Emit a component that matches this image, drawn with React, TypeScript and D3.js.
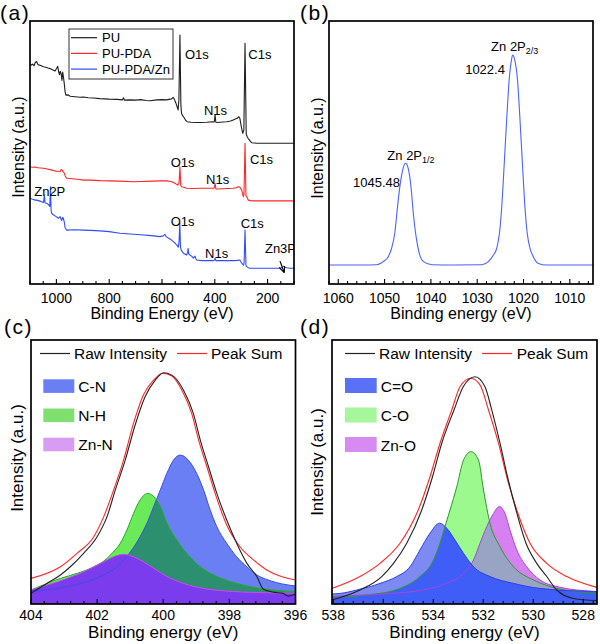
import React from "react";
import * as d3 from "d3";

type Pt = [number, number];
const FONT = "'Liberation Sans', Arial, Helvetica, sans-serif";

// ---------------- (a) XPS survey ----------------
const surveyTickLabels = [1000, 800, 600, 400, 200];
const surveyLegend = ["PU", "PU-PDA", "PU-PDA/Zn"];
const puSurvey: Pt[] = [
  [1100, 83.9], [1095, 83.2], [1090, 83.6], [1085, 83.0], [1080, 84.2], [1075, 84.6], [1070, 83.4], [1062, 83.2],
  [1055, 82.9], [1049, 82.6], [1040, 82.4], [1032, 82.1], [1024, 81.9], [1015, 81.5], [1005, 81.0], [999, 82.0],
  [995, 82.8], [991, 80.5], [988, 79.6], [985, 80.9], [982, 80.0], [979, 77.4], [976, 80.6], [973, 78.5], [970, 76.0],
  [967, 73.0], [964, 71.8], [955, 71.9], [948, 71.4], [930, 71.2], [910, 71.0], [898, 71.1], [880, 70.8], [860, 70.7],
  [835, 70.5], [800, 70.3], [770, 70.2], [750, 70.0], [746, 70.8], [742, 69.9], [720, 70.0], [700, 69.9], [680, 70.1],
  [660, 69.8], [645, 69.7], [620, 70.0], [600, 70.1], [582, 70.0], [570, 70.3], [563, 70.4], [558, 71.0], [553, 70.2],
  [547, 68.7], [543, 67.5], [539, 66.2], [536, 70], [532, 94.7], [528.5, 68], [526, 64.9], [522, 64.0], [516, 63.2],
  [510, 62.2], [505, 61.7], [490, 61.5], [470, 61.4], [456, 61.4], [430, 61.5], [410, 61.7], [402, 61.6], [399, 64.3],
  [396, 61.5], [390, 61.4], [370, 61.6], [355, 61.7], [340, 62.0], [330, 62.4], [320, 62.8], [315, 63.0], [309, 63.6],
  [305, 63.0], [302, 61.2], [298, 59.0], [294, 57.3], [290, 58.5], [285.5, 91.5], [281, 57], [277, 56.0], [273, 55.2],
  [269, 54.8], [265, 54.2], [260, 53.7], [250, 53.6], [241, 53.5], [200, 53.5], [150, 53.5], [100, 53.5],
];
const pdaSurvey: Pt[] = [
  [1100, 44.6], [1090, 44.4], [1080, 44.5], [1070, 44.2], [1060, 44.1], [1049, 44.0], [1035, 43.7], [1020, 43.4],
  [1005, 43.0], [995, 42.8], [986, 42.7], [982, 43.5], [978, 43.3], [974, 42.6], [970, 42.1], [967, 41.2], [964, 40.6],
  [960, 40.2], [940, 40.0], [920, 39.8], [898, 39.5], [870, 39.5], [835, 39.3], [800, 39.2], [760, 39.1], [709, 38.9],
  [680, 39.0], [640, 39.1], [600, 39.2], [582, 39.2], [565, 39.0], [551, 38.3], [540, 37.6], [535.5, 38.5], [532, 44.6],
  [529, 37.5], [526, 37.0], [515, 36.7], [507, 36.4], [480, 36.3], [450, 36.4], [406, 36.4], [402, 36.5], [399, 38.3],
  [396, 36.2], [393, 36.1], [370, 36.2], [350, 36.3], [330, 36.4], [320, 36.6], [311, 37.0], [305, 36.8], [298, 35.7],
  [292, 33.2], [289.5, 34], [285.5, 53.5], [282, 33.5], [279, 33.2], [273, 31.9], [265, 31.7], [254, 31.6], [200, 31.6],
  [150, 31.6], [100, 31.6],
];
const znSurvey: Pt[] = [
  [1100, 32.6], [1090, 32.2], [1080, 31.9], [1075, 31.9], [1065, 31.6], [1056, 31.3], [1049, 31.0], [1045.5, 33.8],
  [1043, 30.8], [1037, 30.7], [1030, 30.2], [1025, 29.5], [1022.4, 37.0], [1020, 28.0], [1018, 26.9], [1012, 26.3],
  [1005, 25.9], [999, 25.5], [993, 25.0], [986, 25.6], [983, 24.8], [980, 24.1], [977, 25.3], [974, 25.0], [970, 23.5],
  [967, 21.4], [961, 20.5], [930, 20.6], [898, 20.5], [870, 20.4], [835, 20.2], [800, 19.9], [759, 19.3], [720, 19.0],
  [680, 18.7], [640, 18.4], [608, 18.0], [595, 18.3], [589, 18.9], [584, 18.0], [575, 17.4], [565, 16.8], [557, 16.1],
  [550, 15.5], [544, 14.8], [538, 14.0], [535.5, 16], [532.5, 23.1], [530, 14], [527, 12.9], [519, 11.7], [507, 11.0],
  [503, 12.0], [501, 13.6], [499, 11.5], [494, 11.0], [487, 10.5], [481, 9.8], [477, 10.4], [475, 10.6], [471, 9.5],
  [469, 9.1], [450, 8.9], [420, 8.9], [406, 8.9], [402, 9.0], [399, 9.8], [396, 8.9], [393, 8.9], [360, 8.9], [330, 8.9],
  [315, 9.0], [305, 9.1], [298, 7.9], [291, 7.2], [289, 8], [285.5, 20.5], [282, 7], [279, 6.6], [273, 6.2], [267, 6.0],
  [240, 6.0], [200, 6.0], [170, 6.0], [153, 6.0], [145, 6.3], [140, 6.8], [135, 6.4], [128, 6.2], [115, 6.0], [100, 6.0],
];
const surveyNotes = [
  { text: "O1s", e: 513, i: 85.6 }, { text: "C1s", e: 273, i: 85.6 }, { text: "N1s", e: 441, i: 64.3 },
  { text: "O1s", e: 567, i: 44.6 }, { text: "C1s", e: 267, i: 45.6 }, { text: "N1s", e: 433, i: 38.0 },
  { text: "Zn2P", e: 1084, i: 33.5 }, { text: "O1s", e: 567, i: 22.1 }, { text: "C1s", e: 302, i: 21.3 },
  { text: "N1s", e: 437, i: 9.9 }, { text: "Zn3P", e: 210, i: 11.8 },
];
const zn3pArrow: Pt[] = [[153, 8.7], [138, 4.6]];

// ---------------- (b) Zn 2p ----------------
const zn2pTickLabels = [1060, 1050, 1040, 1030, 1020, 1010];
const zn2p: Pt[] = [
  [1062, 7.2], [1055, 7.2], [1051.7, 7.3], [1050.3, 8.5], [1049.2, 10.4], [1048.5, 13.5], [1047.8, 19.3], [1047.2, 29.4],
  [1046.7, 37.0], [1046.0, 44.0], [1045.45, 45.9], [1044.9, 44.0], [1044.3, 37.0], [1043.8, 26.9], [1043.2, 18.0],
  [1042.5, 11.6], [1041.6, 8.5], [1039.8, 7.3], [1035, 7.2], [1029, 7.3], [1027.6, 8.5], [1026.5, 11.0], [1025.8, 13.5],
  [1025.2, 19.3], [1024.7, 29.4], [1024.2, 44.6], [1023.6, 63.6], [1023.1, 77.6], [1022.6, 85.2], [1022.35, 87.1],
  [1021.9, 85.2], [1021.3, 77.6], [1020.8, 63.6], [1020.2, 44.6], [1019.7, 29.4], [1019.2, 19.3], [1018.6, 13.5],
  [1017.9, 10.4], [1016.8, 7.8], [1015, 7.2], [1005, 7.2],
];
const zn2pNotes = [
  { main: "Zn 2P", sub: "1/2", e: 1049.4, i: 47.1, value: "1045.48", ve: 1056.8, vi: 37.0 },
  { main: "Zn 2P", sub: "2/3", e: 1027.0, i: 88.6, value: "1022.4", ve: 1032.6, vi: 79.8 },
];

// ---------------- (c) N 1s ----------------
const n1sTickLabels = [404, 402, 400, 398, 396];
const n1sLegend = ["C-N", "N-H", "Zn-N"];
const n1sRaw: Pt[] = [
  [404.0, 4.0], [403.92, 4.7], [403.52, 7.8], [403.11, 11.0], [402.81, 14.1], [402.41, 19.2], [402.0, 25.5],
  [401.7, 33.1], [401.45, 43.2], [401.15, 54.5], [400.85, 67.8], [400.55, 78.5], [400.24, 84.8], [399.99, 87.6],
  [399.74, 86.7], [399.39, 81.1], [399.09, 72.2], [398.88, 62.1], [398.63, 52.0], [398.38, 41.9], [398.08, 31.8],
  [397.78, 23.0], [397.47, 15.4], [397.17, 10.4], [396.97, 5.6], [396.67, 4.5], [396.37, 4.0], [396.22, 3.0], [396.0, 3.8],
];
const n1sSum: Pt[] = [
  [404.0, 9.7], [403.11, 14.1], [402.61, 19.2], [402.1, 25.5], [401.8, 33.1], [401.5, 43.2], [401.2, 54.5],
  [400.9, 68.4], [400.6, 79.2], [400.29, 84.8], [400.02, 87.4], [399.74, 86.4], [399.44, 81.1], [399.14, 72.2],
  [398.93, 62.1], [398.68, 52.0], [398.43, 41.9], [398.08, 29.9], [397.68, 21.7], [397.27, 16.7], [396.87, 12.9],
  [396.47, 10.6], [396.0, 9.1],
];
const n1sCN: Pt[] = [
  [404.0, 4.7], [402.91, 6.6], [401.91, 10.4], [401.4, 14.1], [400.95, 20.5], [400.7, 25.5], [400.45, 31.8],
  [400.29, 36.9], [400.09, 43.2], [399.89, 49.5], [399.69, 54.5], [399.49, 56.4], [399.24, 54.5], [398.99, 49.5],
  [398.78, 43.2], [398.58, 35.6], [398.38, 29.3], [398.08, 23.0], [397.78, 17.9], [397.47, 14.1], [397.17, 11.0],
  [396.87, 9.3], [396.57, 8.1], [396.0, 6.8],
];
const n1sNH: Pt[] = [
  [404.0, 5.3], [403.11, 9.7], [402.61, 11.6], [402.1, 14.1], [401.7, 17.3], [401.6, 18.6], [401.3, 23.0],
  [401.1, 28.0], [400.9, 34.3], [400.7, 39.4], [400.48, 41.9], [400.24, 40.0], [400.09, 36.9], [399.89, 30.6],
  [399.59, 24.2], [399.29, 19.2], [398.88, 14.1], [398.38, 10.4], [397.78, 7.8], [397.07, 5.9], [396.0, 4.7],
];
const n1sZnN: Pt[] = [
  [404.0, 5.3], [402.91, 9.7], [402.51, 11.6], [402.1, 14.1], [401.8, 16.0], [401.5, 17.9], [401.2, 18.8],
  [400.9, 17.9], [400.6, 16.0], [400.29, 13.5], [399.89, 10.4], [399.39, 7.8], [398.78, 5.9], [398.08, 4.9],
  [397.07, 4.3], [396.0, 4.1],
];

// ---------------- (d) O 1s ----------------
const o1sTickLabels = [538, 536, 534, 532, 530, 528];
const o1sLegend = ["C=O", "C-O", "Zn-O"];
const o1sRaw: Pt[] = [
  [538.06, 1.5], [536.93, 5.3], [536.06, 10.4], [535.59, 15.4], [535.06, 23.0], [534.46, 35.6], [534.03, 48.2],
  [533.66, 60.9], [533.17, 73.5], [532.8, 82.3], [532.33, 86.1], [531.93, 82.3], [531.66, 73.5], [531.33, 60.9],
  [531.03, 48.2], [530.69, 35.6], [530.29, 23.0], [529.86, 15.4], [529.46, 10.4], [529.06, 5.3], [528.39, 2.1], [527.46, 1.3],
];
const o1sSum: Pt[] = [
  [538.06, 5.9], [536.93, 10.4], [536.13, 15.4], [535.33, 23.0], [534.6, 35.6], [534.13, 48.2], [533.73, 60.9],
  [533.26, 73.5], [532.93, 82.3], [532.5, 85.5], [532.13, 83.0], [531.79, 73.5], [531.39, 60.9], [531.06, 48.2],
  [530.66, 35.6], [530.13, 23.0], [529.46, 15.4], [528.66, 10.4], [527.46, 6.3],
];
const o1sCdO: Pt[] = [
  [538.06, 3.8], [537.73, 4.0], [537.06, 5.3], [536.13, 7.8], [535.46, 10.4], [534.93, 14.1], [534.53, 20.5],
  [534.13, 26.8], [533.75, 30.6], [533.46, 28.7], [533.13, 24.2], [532.79, 19.2], [532.39, 14.1], [531.73, 10.4],
  [530.79, 7.8], [529.73, 5.9], [527.46, 4.7],
];
const o1sCO: Pt[] = [
  [538.06, 2.5], [536.66, 3.4], [535.33, 5.9], [534.53, 10.4], [534.06, 15.4], [533.73, 23.0], [533.49, 30.6],
  [533.33, 35.6], [533.06, 44.4], [532.79, 54.5], [532.49, 57.7], [532.19, 54.5], [531.99, 43.2], [531.73, 30.6],
  [531.33, 21.7], [530.79, 14.1], [529.99, 9.1], [529.06, 5.9], [527.46, 4.0],
];
const o1sZnO: Pt[] = [
  [538.06, 2.8], [537.73, 3.0], [535.73, 4.0], [534.4, 5.3], [533.46, 7.8], [532.79, 11.6], [532.39, 16.7],
  [532.13, 23.0], [531.86, 29.3], [531.59, 34.3], [531.35, 36.9], [531.13, 34.3], [530.93, 28.0], [530.66, 20.5],
  [530.26, 14.1], [529.73, 9.1], [529.06, 6.6], [527.46, 4.7],
];

type Box = { x0: number; x1: number; y0: number; y1: number };
type Lin = d3.ScaleLinear<number, number>;

function BottomAxis({ x, y, labels, minorStep, majorStep, labelY, fontSize }:
  { x: Lin; y: number; labels: number[]; minorStep: number; majorStep: number; labelY: number; fontSize: number }) {
  const [a, b] = x.domain();
  const lo = Math.min(a, b), hi = Math.max(a, b);
  const n0 = Math.ceil(lo / minorStep - 1e-6), n1 = Math.floor(hi / minorStep + 1e-6);
  const ticks: any[] = [];
  for (let k = n0; k <= n1; k++) {
    const v = k * minorStep;
    const r = v / majorStep;
    const major = Math.abs(r - Math.round(r)) < 1e-6;
    ticks.push(<line key={k} x1={x(v)} x2={x(v)} y1={y} y2={y - (major ? 5 : 3)} stroke="#000" strokeWidth={1.1} />);
  }
  return (
    <g>
      {ticks}
      {labels.map((v) => (
        <text key={v} x={x(v)} y={labelY} textAnchor="middle" fontSize={fontSize} fill="#000">{v}</text>
      ))}
    </g>
  );
}

function Frame({ box }: { box: Box }) {
  return <rect x={box.x0} y={box.y0} width={box.x1 - box.x0} height={box.y1 - box.y0} fill="none" stroke="#000" strokeWidth={1.7} />;
}

function YTitle({ x, cy, size }: { x: number; cy: number; size: number }) {
  return (
    <text transform={`translate(${x},${cy}) rotate(-90)`} textAnchor="middle" fontSize={size} fill="#000">
      Intensity (a.u.)
    </text>
  );
}

export default function App() {
  const A: Box = { x0: 30, x1: 294, y0: 21, y1: 284 };
  const B: Box = { x0: 329, x1: 593, y0: 21, y1: 284 };
  const C: Box = { x0: 31, x1: 295.5, y0: 340, y1: 604 };
  const D: Box = { x0: 332, x1: 597, y0: 340, y1: 604 };

  const xa = d3.scaleLinear().domain([1100, 100]).range([A.x0, A.x1]);
  const ya = d3.scaleLinear().domain([0, 100]).range([A.y1, A.y0]);
  const xb = d3.scaleLinear().domain([1062, 1005]).range([B.x0, B.x1]);
  const yb = d3.scaleLinear().domain([0, 100]).range([B.y1, B.y0]);
  const xc = d3.scaleLinear().domain([404, 396]).range([C.x0, C.x1]);
  const yc = d3.scaleLinear().domain([0, 100]).range([C.y1, C.y0]);
  const xd = d3.scaleLinear().domain([538.05, 527.45]).range([D.x0, D.x1]);
  const yd = d3.scaleLinear().domain([0, 100]).range([D.y1, D.y0]);

  const lineA = d3.line<Pt>().x((d) => xa(d[0])).y((d) => ya(d[1]));
  const lineB = d3.line<Pt>().x((d) => xb(d[0])).y((d) => yb(d[1])).curve(d3.curveMonotoneX);
  const lineC = d3.line<Pt>().x((d) => xc(d[0])).y((d) => yc(d[1])).curve(d3.curveMonotoneX);
  const areaC = d3.area<Pt>().x((d) => xc(d[0])).y0(yc(0)).y1((d) => yc(d[1])).curve(d3.curveMonotoneX);
  const lineD = d3.line<Pt>().x((d) => xd(d[0])).y((d) => yd(d[1])).curve(d3.curveMonotoneX);
  const areaD = d3.area<Pt>().x((d) => xd(d[0])).y0(yd(0)).y1((d) => yd(d[1])).curve(d3.curveMonotoneX);

  const cCN = areaC(n1sCN) || "", cNH = areaC(n1sNH) || "", cZn = areaC(n1sZnN) || "";
  const dCdO = areaD(o1sCdO) || "", dCO = areaD(o1sCO) || "", dZn = areaD(o1sZnO) || "";

  const surveyColors = ["#1e1e1e", "#ff2626", "#2f4cff"];
  const surveyData = [puSurvey, pdaSurvey, znSurvey];

  const cPatch = ["#6b7ff5", "#7fe070", "#d99cf3"];
  const dPatch = ["#5a70f5", "#a6f79c", "#d78af1"];

  return (
    <div style={{ position: "absolute", left: 0, top: 0, width: 600, height: 644, background: "#fff" }}>
      <svg width={600} height={644} style={{ display: "block", fontFamily: FONT }}>
        <defs>
          <clipPath id="clipA"><rect x={A.x0} y={A.y0} width={A.x1 - A.x0} height={A.y1 - A.y0} /></clipPath>
          <clipPath id="clipB"><rect x={B.x0} y={B.y0} width={B.x1 - B.x0} height={B.y1 - B.y0} /></clipPath>
          <clipPath id="clipC"><rect x={C.x0} y={C.y0} width={C.x1 - C.x0} height={C.y1 - C.y0} /></clipPath>
          <clipPath id="clipD"><rect x={D.x0} y={D.y0} width={D.x1 - D.x0} height={D.y1 - D.y0} /></clipPath>
          <clipPath id="cBlue"><path d={cCN} /></clipPath>
          <clipPath id="cBlueGreen"><path d={cCN} /><path d={cNH} /></clipPath>
          <clipPath id="dGreen"><path d={dCO} /></clipPath>
          <clipPath id="dGreenPurple"><path d={dCO} /><path d={dZn} /></clipPath>
          <marker id="arrowHead" viewBox="0 0 10 10" refX="8" refY="5" markerWidth="6" markerHeight="6" orient="auto">
            <path d="M0,1 L9,5 L0,9" fill="none" stroke="#000" strokeWidth={1.6} />
          </marker>
        </defs>
        <rect x={0} y={0} width={600} height={644} fill="#fff" />

        {/* ---------- (a) ---------- */}
        <text x={0} y={19.5} fontSize={21} letterSpacing={1.5}>(a)</text>
        <g clipPath="url(#clipA)">
          {surveyData.map((s, k) => (
            <path key={k} d={lineA(s) || ""} fill="none" stroke={surveyColors[k]} strokeWidth={1.1} strokeLinejoin="round" />
          ))}
          {surveyNotes.map((n, k) => (
            <text key={k} x={xa(n.e)} y={ya(n.i)} fontSize={13} fill="#000">{n.text}</text>
          ))}
          <line x1={xa(zn3pArrow[0][0])} y1={ya(zn3pArrow[0][1])} x2={xa(zn3pArrow[1][0])} y2={ya(zn3pArrow[1][1])}
            stroke="#000" strokeWidth={1.2} markerEnd="url(#arrowHead)" />
        </g>
        <g>
          <rect x={69} y={29} width={104} height={50} fill="#fff" stroke="#333" strokeWidth={1} />
          {surveyLegend.map((name, k) => (
            <g key={name}>
              <line x1={71} x2={97} y1={37.7 + k * 15.7} y2={37.7 + k * 15.7} stroke={surveyColors[k]} strokeWidth={1.2} />
              <text x={102} y={42.2 + k * 15.7} fontSize={13}>{name}</text>
            </g>
          ))}
        </g>
        <BottomAxis x={xa} y={A.y1} labels={surveyTickLabels} minorStep={50} majorStep={200} labelY={302.5} fontSize={14} />
        <Frame box={A} />
        <YTitle x={23.5} cy={147} size={16} />
        <text x={(A.x0 + A.x1) / 2} y={319} textAnchor="middle" fontSize={16}>Binding Energy (eV)</text>

        {/* ---------- (b) ---------- */}
        <text x={300} y={19.5} fontSize={21} letterSpacing={1.5}>(b)</text>
        <g clipPath="url(#clipB)">
          <path d={lineB(zn2p) || ""} fill="none" stroke="#4a63ff" strokeWidth={1.1} />
        </g>
        {zn2pNotes.map((n, k) => (
          <g key={k}>
            <text x={xb(n.e)} y={yb(n.i)} fontSize={13}>
              {n.main}
              <tspan fontSize={9} dy={3}>{n.sub}</tspan>
            </text>
            <text x={xb(n.ve)} y={yb(n.vi)} fontSize={13}>{n.value}</text>
          </g>
        ))}
        <BottomAxis x={xb} y={B.y1} labels={zn2pTickLabels} minorStep={2} majorStep={10} labelY={302.5} fontSize={14} />
        <Frame box={B} />
        <YTitle x={323} cy={148} size={16} />
        <text x={(B.x0 + B.x1) / 2} y={319} textAnchor="middle" fontSize={16}>Binding energy (eV)</text>

        {/* ---------- (c) ---------- */}
        <text x={4} y={334} fontSize={21} letterSpacing={1.5}>(c)</text>
        <g clipPath="url(#clipC)">
          <path d={cCN} fill="#6b7ff5" />
          <path d={cNH} fill="#6aea58" />
          <path d={cNH} fill="#2b8f70" clipPath="url(#cBlue)" />
          <path d={cZn} fill="#c46cf2" />
          <path d={cZn} fill="#7a3cec" clipPath="url(#cBlueGreen)" />
          <path d={lineC(n1sCN) || ""} fill="none" stroke="#3a4ee6" strokeWidth={1} />
          <path d={lineC(n1sNH) || ""} fill="none" stroke="#1faa24" strokeWidth={1} />
          <path d={lineC(n1sZnN) || ""} fill="none" stroke="#c44ee6" strokeWidth={1} />
          <path d={lineC(n1sSum) || ""} fill="none" stroke="#ff2626" strokeWidth={1.1} />
          <path d={lineC(n1sRaw) || ""} fill="none" stroke="#222" strokeWidth={1.1} />
        </g>
        <g>
          <line x1={40} x2={70} y1={353.5} y2={353.5} stroke="#222" strokeWidth={1.2} />
          <text x={74} y={359} fontSize={15.5}>Raw Intensity</text>
          <line x1={177} x2={207} y1={353.5} y2={353.5} stroke="#ff2626" strokeWidth={1.2} />
          <text x={211} y={359} fontSize={15.5}>Peak Sum</text>
          {n1sLegend.map((name, k) => (
            <g key={name}>
              <rect x={43.3} y={379.3 + k * 29.2} width={31} height={13.6} fill={cPatch[k]} />
              <text x={78.3} y={391.8 + k * 29.2} fontSize={15.5}>{name}</text>
            </g>
          ))}
        </g>
        <BottomAxis x={xc} y={C.y1} labels={n1sTickLabels} minorStep={0.4} majorStep={2} labelY={619.5} fontSize={14} />
        <Frame box={C} />
        <YTitle x={23.3} cy={458} size={17} />
        <text x={(C.x0 + C.x1) / 2} y={638} textAnchor="middle" fontSize={17}>Binding energy (eV)</text>

        {/* ---------- (d) ---------- */}
        <text x={300} y={334} fontSize={21} letterSpacing={1.5}>(d)</text>
        <g clipPath="url(#clipD)">
          <path d={dCO} fill="#9cf98e" />
          <path d={dZn} fill="#d680f2" />
          <path d={dZn} fill="#99a3c4" clipPath="url(#dGreen)" />
          <path d={dCdO} fill="#7c8af2" />
          <path d={dCdO} fill="#3f5ef7" clipPath="url(#dGreenPurple)" />
          <path d={lineD(o1sCO) || ""} fill="none" stroke="#2a9a2a" strokeWidth={1} />
          <path d={lineD(o1sZnO) || ""} fill="none" stroke="#a844dd" strokeWidth={1} />
          <path d={lineD(o1sCdO) || ""} fill="none" stroke="#2c40e4" strokeWidth={1} />
          <path d={lineD(o1sSum) || ""} fill="none" stroke="#ff2626" strokeWidth={1.1} />
          <path d={lineD(o1sRaw) || ""} fill="none" stroke="#222" strokeWidth={1.1} />
        </g>
        <g>
          <line x1={345} x2={375} y1={353.5} y2={353.5} stroke="#222" strokeWidth={1.2} />
          <text x={379} y={359} fontSize={15.5}>Raw Intensity</text>
          <line x1={482} x2={512} y1={353.5} y2={353.5} stroke="#ff2626" strokeWidth={1.2} />
          <text x={516.7} y={359} fontSize={15.5}>Peak Sum</text>
          {o1sLegend.map((name, k) => (
            <g key={name}>
              <rect x={345} y={378 + k * 29.5} width={31.7} height={15} fill={dPatch[k]} />
              <text x={380.7} y={391.5 + k * 29.5} fontSize={15.5}>{name}</text>
            </g>
          ))}
        </g>
        <BottomAxis x={xd} y={D.y1} labels={o1sTickLabels} minorStep={0.4} majorStep={2} labelY={619.5} fontSize={14} />
        <Frame box={D} />
        <YTitle x={323.3} cy={462} size={17} />
        <text x={(D.x0 + D.x1) / 2} y={638} textAnchor="middle" fontSize={17}>Binding energy (eV)</text>
      </svg>
    </div>
  );
}
